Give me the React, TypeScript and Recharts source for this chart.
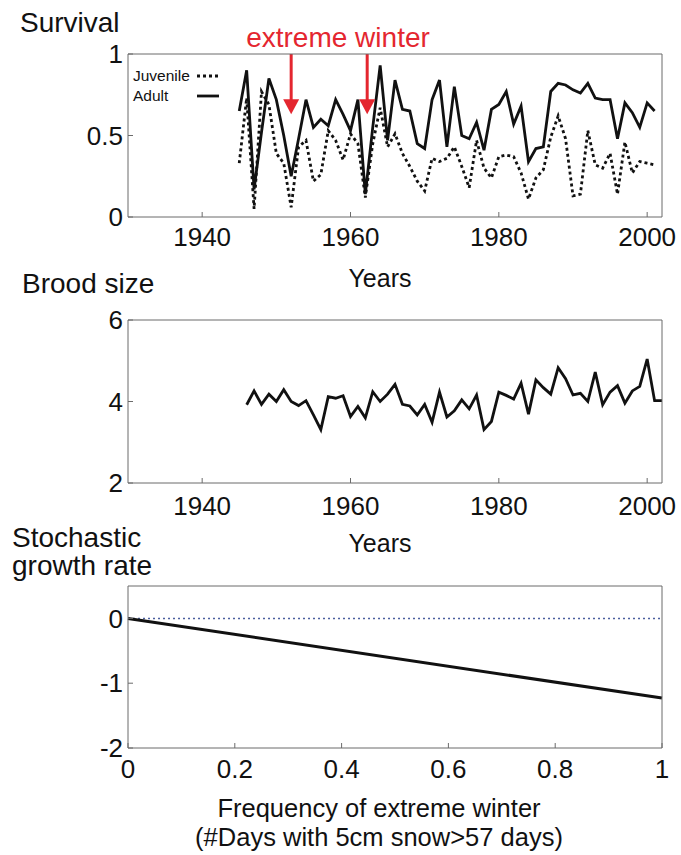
import React from "react";
import {
  Line,
  LineChart,
  ReferenceDot,
  ReferenceLine,
  XAxis,
  YAxis,
} from "recharts";

// survival, 1945-2001
const survivalYears = Array.from({ length: 57 }, (_, i) => 1945 + i);
const adultSurvival = [
  0.65, 0.9, 0.17, 0.52, 0.85, 0.72, 0.5, 0.25, 0.48, 0.72,
  0.55, 0.6, 0.56, 0.72, 0.63, 0.53, 0.72, 0.14, 0.55, 0.93,
  0.47, 0.84, 0.66, 0.65, 0.45, 0.42, 0.72, 0.84, 0.43, 0.8,
  0.5, 0.48, 0.58, 0.41, 0.66, 0.69, 0.77, 0.57, 0.68, 0.34,
  0.42, 0.43, 0.77, 0.82, 0.81, 0.78, 0.76, 0.82, 0.73, 0.72,
  0.72, 0.48, 0.7, 0.64, 0.55, 0.7, 0.65,
];
const juvenileSurvival = [
  0.33, 0.73, 0.05, 0.77, 0.69, 0.39, 0.33, 0.06, 0.43, 0.47,
  0.22, 0.26, 0.53, 0.47, 0.35, 0.51, 0.45, 0.12, 0.45, 0.67,
  0.43, 0.51, 0.39, 0.31, 0.22, 0.16, 0.36, 0.34, 0.36, 0.43,
  0.31, 0.18, 0.47, 0.3, 0.24, 0.37, 0.38, 0.37, 0.27, 0.11,
  0.24, 0.29, 0.49, 0.62, 0.48, 0.13, 0.14, 0.53, 0.32, 0.3,
  0.39, 0.14, 0.46, 0.27, 0.34, 0.33, 0.32,
];

// brood size, 1946-2002
const broodYears = Array.from({ length: 57 }, (_, i) => 1946 + i);
const broodSize = [
  3.92, 4.26, 3.93, 4.18, 4.0, 4.29, 4.0, 3.9, 4.02, 3.67,
  3.31, 4.12, 4.08, 4.14, 3.63, 3.88, 3.6, 4.24, 4.0, 4.18,
  4.42, 3.93, 3.89, 3.67, 3.93, 3.49, 4.23, 3.62, 3.77, 4.04,
  3.82, 4.16, 3.31, 3.51, 4.23, 4.15, 4.06, 4.45, 3.69, 4.53,
  4.34, 4.18, 4.83, 4.56, 4.16, 4.2, 4.0, 4.72, 3.92, 4.23,
  4.39, 3.96, 4.26, 4.37, 5.04, 4.02, 4.02,
];

// stochastic growth rate vs frequency of extreme winters
const winterFreq = [0, 1];
const growthRate = [0, -1.23];

const extremeWinters = [1952, 1962.25];
const yearTicks = [1940, 1960, 1980, 2000];
const survivalTicks = [0, 0.5, 1];
const broodTicks = [2, 4, 6];
const growthTicks = [-2, -1, 0];
const freqTicks = [0, 0.2, 0.4, 0.6, 0.8, 1];

const survivalData = survivalYears.map((year, i) => ({
  year,
  adult: adultSurvival[i],
  juvenile: juvenileSurvival[i],
}));
const broodData = broodYears.map((year, i) => ({ year, brood: broodSize[i] }));
const growthData = winterFreq.map((freq, i) => ({ freq, growth: growthRate[i] }));

const FONT = "'Liberation Sans', Arial, Helvetica, sans-serif";
const FRAME = "#6b6b6b";
const RED = "#e4262f";
const tickStyle = { fill: "#111", fontSize: 26, fontFamily: FONT };
const frameProps = { stroke: FRAME, strokeWidth: 1 };
// top/right axes take 1px each, so the plot box is x 128-662, top at 54
const margin = { top: 53, right: 18, bottom: 0, left: 0 };

function Arrowhead({ cx, cy }: { cx?: number; cy?: number }) {
  if (cx == null || cy == null) return null;
  return <path d={`M${cx - 8},${cy - 15} L${cx + 8},${cy - 15} L${cx},${cy} Z`} fill={RED} />;
}

// box frame: mirrored top / right axes with inward ticks and no labels
function topAxis(dataKey: string, domain: number[], ticks: number[]) {
  return (
    <XAxis
      xAxisId="top"
      dataKey={dataKey}
      type="number"
      orientation="top"
      domain={domain}
      ticks={ticks}
      interval={0}
      height={1}
      tickSize={-5}
      tick={false}
      axisLine={frameProps}
      tickLine={frameProps}
    />
  );
}

function rightAxis(domain: number[], ticks: number[]) {
  return (
    <YAxis
      yAxisId="right"
      orientation="right"
      domain={domain}
      ticks={ticks}
      interval={0}
      width={1}
      tickSize={-5}
      tick={false}
      axisLine={frameProps}
      tickLine={frameProps}
    />
  );
}

export default function App() {
  return (
    <div style={{ position: "absolute", left: 0, top: 0, width: 681, height: 855, background: "#fff" }}>
      <div style={{ position: "absolute", left: 0, top: 0 }}>
        <LineChart width={681} height={260} data={survivalData} margin={margin}>
          <XAxis
            dataKey="year"
            type="number"
            domain={[1930, 2002]}
            ticks={yearTicks}
            interval={0}
            height={43}
            tickSize={-5}
            tickMargin={16}
            tick={tickStyle}
            axisLine={frameProps}
            tickLine={frameProps}
          />
          {topAxis("year", [1930, 2002], yearTicks)}
          <YAxis
            domain={[0, 1]}
            ticks={survivalTicks}
            interval={0}
            width={128}
            tickSize={-5}
            tickMargin={10}
            tick={tickStyle}
            axisLine={frameProps}
            tickLine={frameProps}
          />
          {rightAxis([0, 1], survivalTicks)}
          <Line
            type="linear"
            dataKey="juvenile"
            stroke="#111"
            strokeWidth={2.8}
            strokeDasharray="3 3"
            dot={false}
            isAnimationActive={false}
          />
          <Line
            type="linear"
            dataKey="adult"
            stroke="#111"
            strokeWidth={2.8}
            dot={false}
            isAnimationActive={false}
          />
          {extremeWinters.map((yr) => (
            <ReferenceLine
              key={`l${yr}`}
              segment={[
                { x: yr, y: 1 },
                { x: yr, y: 0.71 },
              ]}
              stroke={RED}
              strokeWidth={3}
            />
          ))}
          {extremeWinters.map((yr) => (
            <ReferenceDot key={`d${yr}`} x={yr} y={0.63} shape={<Arrowhead />} />
          ))}
        </LineChart>
      </div>

      <div style={{ position: "absolute", left: 0, top: 266 }}>
        <LineChart width={681} height={260} data={broodData} margin={margin}>
          <XAxis
            dataKey="year"
            type="number"
            domain={[1930, 2002]}
            ticks={yearTicks}
            interval={0}
            height={43}
            tickSize={-5}
            tickMargin={19}
            tick={tickStyle}
            axisLine={frameProps}
            tickLine={frameProps}
          />
          {topAxis("year", [1930, 2002], yearTicks)}
          <YAxis
            domain={[2, 6]}
            ticks={broodTicks}
            interval={0}
            width={128}
            tickSize={-5}
            tickMargin={10}
            tick={tickStyle}
            axisLine={frameProps}
            tickLine={frameProps}
          />
          {rightAxis([2, 6], broodTicks)}
          <Line
            type="linear"
            dataKey="brood"
            stroke="#111"
            strokeWidth={2.8}
            dot={false}
            isAnimationActive={false}
          />
        </LineChart>
      </div>

      <div style={{ position: "absolute", left: 0, top: 532 }}>
        <LineChart width={681} height={259} data={growthData} margin={margin}>
          <XAxis
            dataKey="freq"
            type="number"
            domain={[0, 1]}
            ticks={freqTicks}
            interval={0}
            height={43}
            tickSize={-5}
            tickMargin={17}
            tick={tickStyle}
            axisLine={frameProps}
            tickLine={frameProps}
          />
          {topAxis("freq", [0, 1], freqTicks)}
          <YAxis
            domain={[-2, 0.5]}
            ticks={growthTicks}
            interval={0}
            width={128}
            tickSize={-5}
            tickMargin={10}
            tick={tickStyle}
            axisLine={frameProps}
            tickLine={frameProps}
          />
          {rightAxis([-2, 0.5], growthTicks)}
          <ReferenceLine y={0} stroke="#4b5f9e" strokeWidth={1.5} strokeDasharray="2 3" />
          <Line
            type="linear"
            dataKey="growth"
            stroke="#111"
            strokeWidth={3}
            dot={false}
            isAnimationActive={false}
          />
        </LineChart>
      </div>

      <svg
        width={681}
        height={855}
        style={{ position: "absolute", left: 0, top: 0, pointerEvents: "none" }}
        fontFamily={FONT}
        fill="#111"
      >
        <text x={20} y={32} fontSize={28}>Survival</text>
        <text x={338} y={47} fontSize={28} fill={RED} textAnchor="middle">extreme winter</text>
        <text x={133} y={81} fontSize={15.5}>Juvenile</text>
        <line x1={197} y1={76} x2={219} y2={76} stroke="#111" strokeWidth={2.8} strokeDasharray="3 3" />
        <text x={133} y={101} fontSize={15.5}>Adult</text>
        <line x1={197} y1={96} x2={219} y2={96} stroke="#111" strokeWidth={2.8} />
        <text x={380} y={287} fontSize={25} textAnchor="middle">Years</text>
        <text x={22} y={293} fontSize={28}>Brood size</text>
        <text x={380} y={552} fontSize={25} textAnchor="middle">Years</text>
        <text x={12} y={547} fontSize={28}>Stochastic</text>
        <text x={12} y={575} fontSize={28}>growth rate</text>
        <text x={379} y={817} fontSize={25.5} textAnchor="middle">Frequency of extreme winter</text>
        <text x={379} y={846} fontSize={25.5} textAnchor="middle">(#Days with 5cm snow&gt;57 days)</text>
      </svg>
    </div>
  );
}
